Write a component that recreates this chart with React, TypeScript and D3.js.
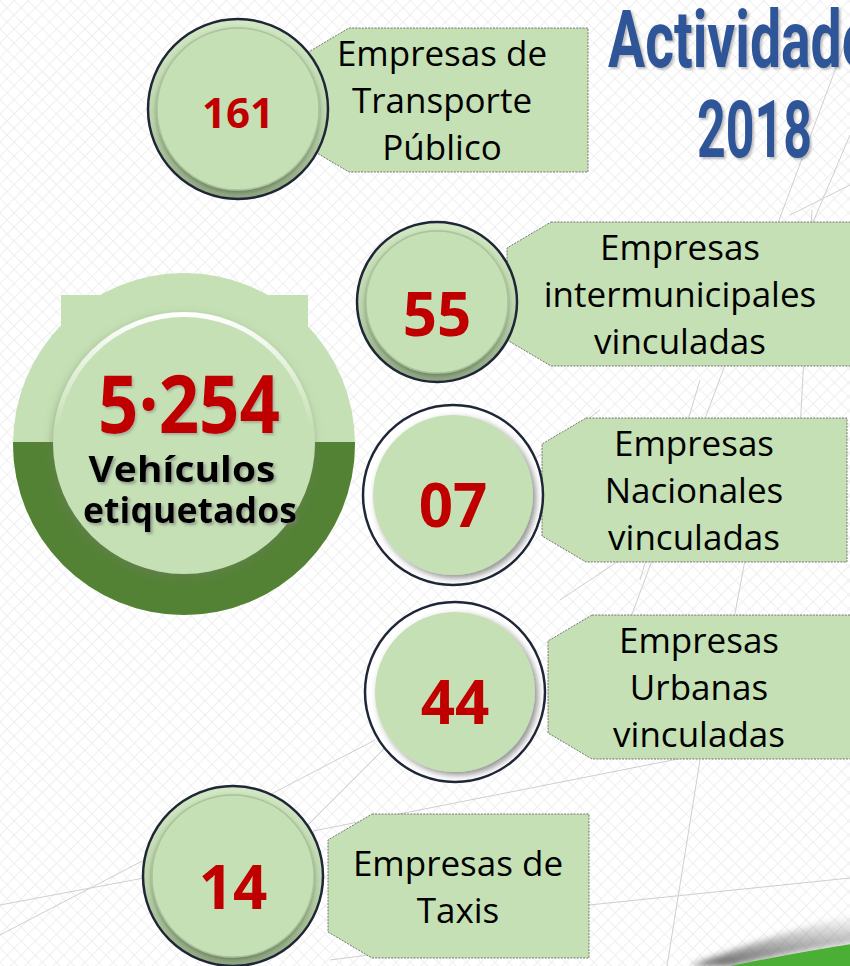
import React, { useRef, useEffect } from 'react';
import * as d3 from 'd3';

// ---- data ----
const categories = ['transporte', 'intermunicipales', 'nacionales', 'urbanas', 'taxis'];
const counts = ['161', '55', '07', '44', '14'];
const labelLines = [
  ['Empresas de', 'Transporte', 'Público'],
  ['Empresas', 'intermunicipales', 'vinculadas'],
  ['Empresas', 'Nacionales', 'vinculadas'],
  ['Empresas', 'Urbanas', 'vinculadas'],
  ['Empresas de', 'Taxis'],
];
const totalValue = '5·254';
const totalLabel = ['Vehículos', 'etiquetados'];
const titleLines = ['Actividades', '2018'];

// ---- layout (bubble + callout placement) ----
const bubbleX = [238, 437, 453, 455, 233];
const bubbleY = [109, 302, 495, 692, 876];
const bubbleR = [90, 80, 90, 90, 90];
const bubbleStyle = ['bevel', 'bevel', 'glow', 'glow', 'bevel'];
const numberSize = [42, 60, 60, 60, 60];
const numberDy = [19, 34, 32, 32, 33];
const calloutTop = [28, 222, 418, 615, 814];
const calloutLeft = [305, 507, 542, 548, 328];
const calloutRight = [588, 872, 847, 872, 589];
const calloutTextX = [442, 680, 694, 699, 458];
const totalLabelWidth = [187, 214];

// faint globe lines in the background
const bgLines = [
  [850, 30, 600, 700],
  [850, 135, 780, 300],
  [790, 215, 850, 185],
  [812, 210, 800, 430],
  [700, 380, 640, 580],
  [600, 410, 520, 470],
  [560, 600, 620, 560],
  [745, 560, 730, 640],
  [0, 935, 375, 740],
  [240, 893, 430, 703],
  [313, 831, 850, 725],
  [589, 905, 850, 878],
  [0, 905, 160, 875],
  [700, 760, 667, 966],
  [330, 960, 560, 930],
];

const GREEN = '#C5E0B4';
const DARK_GREEN = '#548235';
const RED = '#C00000';
const NAVY = '#1F2637';
const FONT = "'Open Sans', 'Noto Sans', sans-serif";

const W = 850;
const H = 966;

const App = () => {
  const svgRef = useRef<SVGSVGElement>(null);

  useEffect(() => {
    const svg = d3.select(svgRef.current);
    svg.selectAll('*').remove();

    const defs = svg.append('defs');

    // diamond lattice background
    const pat = defs.append('pattern')
      .attr('id', 'lattice')
      .attr('width', 10).attr('height', 10)
      .attr('patternUnits', 'userSpaceOnUse')
      .attr('patternTransform', 'rotate(45)');
    pat.append('rect').attr('width', 10).attr('height', 10).attr('fill', '#ffffff');
    pat.append('path').attr('d', 'M0 0 H10 M0 0 V10')
      .attr('stroke', '#ececec').attr('stroke-width', 1.6);

    const shadow = (id: string, dx: number, dy: number, sd: number, color: string, op: number) => {
      defs.append('filter').attr('id', id)
        .attr('x', '-20%').attr('y', '-20%').attr('width', '140%').attr('height', '140%')
        .append('feDropShadow')
        .attr('dx', dx).attr('dy', dy).attr('stdDeviation', sd)
        .attr('flood-color', color).attr('flood-opacity', op);
    };
    shadow('titleShadow', 2, 2, 1.2, '#6f6f6f', 0.45);
    shadow('labelShadow', 2, 2, 1.5, '#7a7a7a', 0.7);
    shadow('numShadow', 1.5, 2, 1, '#7a7a7a', 0.45);
    shadow('innerShadow', 0, 2, 2, '#4a5a40', 0.55);
    shadow('glowShadow', 3, 3, 3, '#444', 0.6);
    shadow('bigInner', -1, 3, 4, '#6d7d63', 0.5);

    const ring = defs.append('linearGradient').attr('id', 'bevelRing')
      .attr('x1', 0).attr('y1', 0).attr('x2', 0).attr('y2', 1);
    ring.append('stop').attr('offset', '0%').attr('stop-color', '#d2e8c4');
    ring.append('stop').attr('offset', '55%').attr('stop-color', '#bdd6ad');
    ring.append('stop').attr('offset', '100%').attr('stop-color', '#8fa681');

    const hi = defs.append('linearGradient').attr('id', 'topHighlight')
      .attr('x1', 0).attr('y1', 0).attr('x2', 0).attr('y2', 1);
    hi.append('stop').attr('offset', '0%').attr('stop-color', '#ffffff').attr('stop-opacity', 1);
    hi.append('stop').attr('offset', '45%').attr('stop-color', '#ffffff').attr('stop-opacity', 0);

    const swooshShade = defs.append('linearGradient').attr('id', 'swooshShade')
      .attr('x1', 0).attr('y1', 0).attr('x2', 0).attr('y2', 1);
    swooshShade.append('stop').attr('offset', '0%').attr('stop-color', '#888').attr('stop-opacity', 0);
    swooshShade.append('stop').attr('offset', '100%').attr('stop-color', '#555').attr('stop-opacity', 0.9);
    defs.append('filter').attr('id', 'blur3').append('feGaussianBlur').attr('stdDeviation', 3);

    defs.append('clipPath').attr('id', 'lowerHalf')
      .append('rect').attr('x', 0).attr('y', 442).attr('width', 400).attr('height', 300);

    // background
    svg.append('rect').attr('width', W).attr('height', H).attr('fill', 'url(#lattice)');
    svg.append('g').selectAll('line').data(bgLines).join('line')
      .attr('x1', d => d[0]).attr('y1', d => d[1])
      .attr('x2', d => d[2]).attr('y2', d => d[3])
      .attr('stroke', '#cfcfcf').attr('stroke-width', 1);

    // bottom right swoosh
    svg.append('path')
      .attr('d', 'M690 966 Q790 928 860 914 L860 942 Q800 950 730 966 Z')
      .attr('fill', 'url(#swooshShade)').attr('filter', 'url(#blur3)');
    svg.append('path')
      .attr('d', 'M730 966 Q800 952 852 944 L852 966 Z')
      .attr('fill', '#4CAF35');

    // title
    const title = svg.append('g').attr('filter', 'url(#titleShadow)')
      .attr('fill', '#2F5597').attr('font-family', "Roboto, 'DejaVu Sans', sans-serif")
      .attr('font-weight', 700);
    title.append('text').attr('x', 608).attr('y', 67).attr('font-size', 80)
      .attr('textLength', 292).attr('lengthAdjust', 'spacingAndGlyphs')
      .text(titleLines[0]);
    title.append('text').attr('x', 697).attr('y', 157).attr('font-size', 80)
      .attr('textLength', 115).attr('lengthAdjust', 'spacingAndGlyphs')
      .text(titleLines[1]);

    // big total circle
    const cx = 184;
    const cy = 444;
    const big = svg.append('g');
    big.append('circle').attr('cx', cx).attr('cy', cy).attr('r', 171).attr('fill', GREEN);
    big.append('rect').attr('x', 61).attr('y', 295).attr('width', 247).attr('height', 40).attr('fill', GREEN);
    big.append('circle').attr('cx', cx).attr('cy', cy).attr('r', 171)
      .attr('fill', DARK_GREEN).attr('clip-path', 'url(#lowerHalf)');
    big.append('circle').attr('cx', cx).attr('cy', cy - 1).attr('r', 131)
      .attr('fill', GREEN).attr('filter', 'url(#bigInner)');
    big.append('circle').attr('cx', cx).attr('cy', cy - 1).attr('r', 128.5)
      .attr('fill', 'none').attr('stroke', 'url(#topHighlight)').attr('stroke-width', 5);

    big.append('text').attr('x', cx + 5).attr('y', 433)
      .attr('text-anchor', 'middle').attr('font-family', FONT).attr('font-weight', 700)
      .attr('font-size', 80).attr('fill', RED).attr('filter', 'url(#numShadow)')
      .attr('textLength', 182).attr('lengthAdjust', 'spacingAndGlyphs')
      .text(totalValue);
    big.append('g').attr('filter', 'url(#labelShadow)')
      .selectAll('text').data(totalLabel).join('text')
      .attr('x', (d, i) => (i === 0 ? cx - 2 : cx + 6))
      .attr('y', (d, i) => 482 + i * 41)
      .attr('text-anchor', 'middle').attr('font-family', FONT).attr('font-weight', 700)
      .attr('font-size', 36).attr('fill', '#000')
      .attr('textLength', (d, i) => totalLabelWidth[i]).attr('lengthAdjust', 'spacingAndGlyphs')
      .text(d => d);

    const items = categories.map((c, i) => ({
      key: c,
      count: counts[i],
      lines: labelLines[i],
      i,
    }));

    // callouts
    const CH = 144;
    const chamferX = 44;
    const chamferY = 26;
    const callouts = svg.append('g').selectAll('g').data(items).join('g');
    callouts.append('path')
      .attr('d', d => {
        const t = calloutTop[d.i];
        const l = calloutLeft[d.i];
        const r = calloutRight[d.i];
        const b = t + CH;
        return `M${l + chamferX},${t} L${r},${t} L${r},${b} L${l + chamferX},${b} L${l},${b - chamferY} L${l},${t + chamferY} Z`;
      })
      .attr('fill', GREEN).attr('stroke', '#5a5a5a').attr('stroke-width', 0.8)
      .attr('stroke-dasharray', '2,1.2');
    callouts.append('text')
      .attr('text-anchor', 'middle').attr('font-family', FONT).attr('font-size', 35)
      .attr('fill', '#000')
      .selectAll('tspan').data(d => d.lines.map((s, k) => ({ s, k, n: d.lines.length, i: d.i })))
      .join('tspan')
      .attr('x', d => calloutTextX[d.i])
      .attr('y', d => calloutTop[d.i] + 85 + (d.k - (d.n - 1) / 2) * 47)
      .text(d => d.s);

    // count bubbles
    const bubbles = svg.append('g').selectAll('g').data(items).join('g')
      .attr('transform', d => `translate(${bubbleX[d.i]},${bubbleY[d.i]})`);
    bubbles.each(function (d) {
      const g = d3.select(this);
      const R = bubbleR[d.i];
      if (bubbleStyle[d.i] === 'bevel') {
        g.append('circle').attr('r', R).attr('fill', 'url(#bevelRing)')
          .attr('stroke', NAVY).attr('stroke-width', 2.5);
        g.append('circle').attr('r', R - 9).attr('fill', GREEN)
          .attr('stroke', '#a9c39a').attr('stroke-width', 1.4)
          .attr('filter', 'url(#innerShadow)');
      } else {
        g.append('circle').attr('r', R).attr('fill', '#ffffff')
          .attr('stroke', NAVY).attr('stroke-width', 2.5);
        g.append('circle').attr('r', R - 10).attr('fill', GREEN)
          .attr('filter', 'url(#glowShadow)');
      }
      g.append('text').attr('y', numberDy[d.i])
        .attr('text-anchor', 'middle').attr('font-family', FONT).attr('font-weight', 700)
        .attr('font-size', numberSize[d.i]).attr('fill', RED)
        .text(d.count);
    });
  }, []);

  return (
    <svg
      ref={svgRef}
      width={W}
      height={H}
      style={{ position: 'absolute', left: 0, top: 0, display: 'block' }}
    />
  );
};

export default App;
